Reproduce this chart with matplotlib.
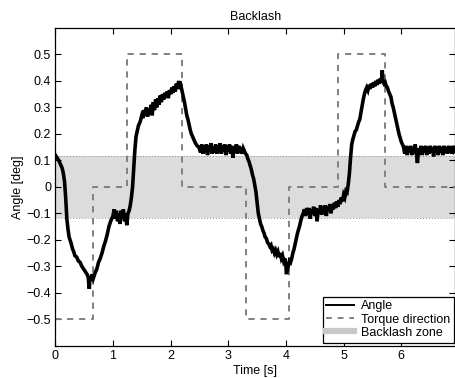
import numpy as np
import matplotlib
matplotlib.use("Agg")
import matplotlib.pyplot as plt
from matplotlib.lines import Line2D

plt.rcParams['font.family'] = ['Liberation Sans', 'DejaVu Sans']

# Measured shaft angle [deg] versus time [s]
angle_t = [
    0.00, 0.03, 0.06, 0.09, 0.12, 0.14, 0.16, 0.18, 0.20, 0.22, 0.24, 0.27, 0.30, 0.32, 0.34, 0.37,
    0.40, 0.43, 0.46, 0.49, 0.52, 0.55, 0.57, 0.59, 0.60, 0.62, 0.64, 0.66, 0.69, 0.72, 0.75, 0.78,
    0.81, 0.84, 0.87, 0.90, 0.93, 0.96, 0.98,
    1.00, 1.02, 1.04, 1.06, 1.08, 1.10, 1.12, 1.14, 1.16, 1.18, 1.20, 1.22, 1.24, 1.26, 1.28,
    1.30, 1.32, 1.34, 1.36, 1.38, 1.40, 1.42, 1.44, 1.47, 1.50,
    1.52, 1.54, 1.56, 1.58, 1.60, 1.62, 1.64, 1.66, 1.68, 1.70, 1.72, 1.74, 1.76, 1.78, 1.80, 1.82,
    1.84, 1.86, 1.88, 1.90, 1.92, 1.94, 1.96, 1.98, 2.00, 2.02, 2.04, 2.06, 2.08, 2.10, 2.12, 2.14,
    2.16, 2.18,
    2.20, 2.22, 2.24, 2.26, 2.28, 2.30, 2.32, 2.34, 2.36, 2.38, 2.40, 2.43, 2.46, 2.49,
    2.52, 2.54, 2.56, 2.58, 2.60, 2.62, 2.64, 2.66, 2.68, 2.70, 2.72, 2.74, 2.76, 2.78, 2.80, 2.82,
    2.84, 2.86, 2.88, 2.90, 2.92, 2.94, 2.96, 2.98, 3.00, 3.02, 3.04, 3.06, 3.08, 3.10, 3.12, 3.14,
    3.16, 3.18, 3.20, 3.22, 3.24, 3.26, 3.28,
    3.30, 3.32, 3.34, 3.36, 3.38, 3.40, 3.42, 3.44, 3.46, 3.48, 3.50, 3.52, 3.54, 3.56, 3.58, 3.60,
    3.62, 3.64, 3.66, 3.68, 3.70, 3.72, 3.74, 3.76, 3.78, 3.80, 3.82, 3.84, 3.86, 3.88, 3.90, 3.92,
    3.94, 3.96, 3.98, 4.00, 4.01, 4.02, 4.04, 4.06, 4.08, 4.10, 4.12, 4.14, 4.16, 4.18, 4.20, 4.22,
    4.24, 4.26, 4.28, 4.30,
    4.32, 4.34, 4.36, 4.38, 4.40, 4.42, 4.44, 4.46, 4.48, 4.50, 4.52, 4.54, 4.56, 4.58, 4.60, 4.62,
    4.64, 4.66, 4.68, 4.70, 4.72, 4.74, 4.76, 4.78, 4.80, 4.82, 4.84, 4.86, 4.88, 4.90, 4.92, 4.94,
    4.96, 4.98, 5.00, 5.02, 5.04, 5.06, 5.08, 5.10, 5.12, 5.14, 5.16, 5.18, 5.20, 5.22, 5.24, 5.26,
    5.28, 5.30, 5.32, 5.34, 5.36, 5.38, 5.40, 5.42, 5.44, 5.46, 5.48, 5.50, 5.52, 5.54, 5.56, 5.58,
    5.60, 5.62, 5.64, 5.66, 5.67, 5.68, 5.70, 5.72, 5.74, 5.76, 5.78, 5.80, 5.82, 5.84, 5.86, 5.88,
    5.90, 5.92, 5.94, 5.96, 5.98, 6.00, 6.02, 6.04,
    6.06, 6.08, 6.10, 6.12, 6.14, 6.16, 6.18, 6.20, 6.22, 6.24, 6.26, 6.28, 6.30, 6.32, 6.34, 6.36,
    6.38, 6.40, 6.42, 6.44, 6.46, 6.48, 6.50, 6.52, 6.54, 6.56, 6.58, 6.60, 6.62, 6.64, 6.66, 6.68,
    6.70, 6.72, 6.74, 6.76, 6.78, 6.80, 6.82, 6.84, 6.86, 6.88, 6.90, 6.92, 6.94,
]
angle_deg = [
    0.120, 0.110, 0.100, 0.085, 0.070, 0.050, 0.020, -0.040, -0.120, -0.160, -0.190, -0.210, -0.235, -0.245, -0.260, -0.265,
    -0.280, -0.285, -0.300, -0.310, -0.320, -0.330, -0.340, -0.385, -0.340, -0.355, -0.330, -0.345, -0.325, -0.310, -0.285, -0.270,
    -0.250, -0.225, -0.205, -0.180, -0.150, -0.130, -0.120,
    -0.110, -0.085, -0.120, -0.090, -0.130, -0.100, -0.140, -0.090, -0.120, -0.085, -0.130, -0.100, -0.145, -0.100, -0.090,
    -0.070, -0.040, 0.000, 0.070, 0.140, 0.190, 0.210, 0.230, 0.245, 0.270,
    0.260, 0.290, 0.270, 0.300, 0.265, 0.295, 0.275, 0.310, 0.270, 0.320, 0.290, 0.330, 0.300, 0.335, 0.310, 0.345,
    0.320, 0.350, 0.330, 0.355, 0.340, 0.360, 0.335, 0.365, 0.350, 0.375, 0.355, 0.380, 0.360, 0.390, 0.370, 0.400,
    0.370, 0.380,
    0.360, 0.340, 0.320, 0.295, 0.270, 0.255, 0.235, 0.215, 0.200, 0.190, 0.180, 0.165, 0.155, 0.150,
    0.130, 0.160, 0.125, 0.155, 0.130, 0.160, 0.120, 0.155, 0.135, 0.165, 0.125, 0.150, 0.130, 0.160, 0.125, 0.155,
    0.130, 0.165, 0.125, 0.155, 0.135, 0.160, 0.120, 0.150, 0.135, 0.160, 0.125, 0.155, 0.110, 0.150, 0.130, 0.160,
    0.125, 0.155, 0.130, 0.150, 0.125, 0.145, 0.135,
    0.125, 0.120, 0.105, 0.095, 0.080, 0.065, 0.045, 0.030, 0.005, -0.020, -0.060, -0.100, -0.120, -0.140, -0.150, -0.165,
    -0.175, -0.190, -0.195, -0.210, -0.215, -0.225, -0.220, -0.240, -0.235, -0.250, -0.240, -0.255, -0.245, -0.265, -0.250, -0.270,
    -0.260, -0.280, -0.270, -0.300, -0.330, -0.290, -0.300, -0.280, -0.285, -0.270, -0.250, -0.235, -0.215, -0.195, -0.175, -0.160,
    -0.145, -0.125, -0.110, -0.100,
    -0.085, -0.110, -0.080, -0.105, -0.080, -0.120, -0.085, -0.100, -0.075, -0.110, -0.080, -0.130, -0.085, -0.100, -0.070, -0.105,
    -0.080, -0.100, -0.070, -0.110, -0.075, -0.090, -0.065, -0.100, -0.070, -0.085, -0.060, -0.080, -0.055, -0.075, -0.050, -0.065,
    -0.040, -0.055, -0.030, -0.040, -0.015, -0.020, 0.010, 0.050, 0.110, 0.160, 0.180, 0.195, 0.210, 0.215, 0.230, 0.245,
    0.255, 0.280, 0.305, 0.330, 0.350, 0.365, 0.375, 0.365, 0.385, 0.370, 0.390, 0.375, 0.395, 0.380, 0.400, 0.385,
    0.405, 0.390, 0.410, 0.395, 0.440, 0.400, 0.390, 0.395, 0.380, 0.375, 0.360, 0.350, 0.340, 0.315, 0.300, 0.280,
    0.260, 0.240, 0.220, 0.200, 0.185, 0.170, 0.160, 0.150,
    0.125, 0.155, 0.120, 0.150, 0.130, 0.155, 0.120, 0.150, 0.125, 0.160, 0.130, 0.090, 0.145, 0.125, 0.155, 0.120,
    0.150, 0.130, 0.155, 0.120, 0.150, 0.125, 0.155, 0.130, 0.150, 0.115, 0.155, 0.130, 0.150, 0.120, 0.155, 0.130,
    0.150, 0.120, 0.155, 0.130, 0.150, 0.125, 0.155, 0.130, 0.150, 0.125, 0.155, 0.135, 0.140,
]

# Applied torque direction (scaled to +/-0.5), switching times [s]
torque_t = [0.00, 0.65, 1.25, 2.20, 3.30, 4.05, 4.90, 5.71, 6.94]
torque_dir = [-0.5, 0.0, 0.5, 0.0, -0.5, 0.0, 0.5, 0.0, 0.0]

# Backlash zone limits [deg]
backlash_lo = -0.117
backlash_hi = 0.117

xticks = [0, 1, 2, 3, 4, 5, 6]
yticks = [-0.5, -0.4, -0.3, -0.2, -0.1, 0, 0.1, 0.2, 0.3, 0.4, 0.5]
ytick_labels = ['\u22120.5', '\u22120.4', '\u22120.3', '\u22120.2', '\u22120.1', '0',
                '0.1', '0.2', '0.3', '0.4', '0.5']

W, H = 456, 378
fig = plt.figure(figsize=(W / 100, H / 100), dpi=100)
ax = fig.add_axes([55.3 / W, 1 - 345.7 / H, (455.5 - 55.3) / W, (345.7 - 28.0) / H])

xmax = 6.94
ax.fill_between([0, xmax], backlash_lo, backlash_hi, color='#dcdcdc', lw=0, zorder=1)
for yb in (backlash_lo, backlash_hi):
    ax.axhline(yb, color='#8c8c8c', lw=0.7, ls=(0, (1, 2)), zorder=1.5)

ax.step(torque_t, torque_dir, where='post', color='#808080', lw=1.4,
        dashes=(3.2, 3.0), zorder=2)
ax.plot(angle_t, angle_deg, color='black', lw=2.6, zorder=3, solid_joinstyle='miter')

ax.set_xlim(0, xmax)
ax.set_ylim(-0.6, 0.6)
ax.set_xticks(xticks)
ax.set_xticklabels([str(v) for v in xticks])
ax.set_yticks(yticks)
ax.set_yticklabels(ytick_labels)
ax.tick_params(direction='in', length=4, width=0.8, top=True, right=True,
               labelsize=9, pad=3, colors='black')
for s in ax.spines.values():
    s.set_linewidth(0.9)

ax.set_title('Backlash', fontsize=9, pad=6)
ax.set_xlabel('Time [s]', fontsize=9, labelpad=2)
ax.set_ylabel('Angle [deg]', fontsize=9, labelpad=2)

handles = [
    Line2D([], [], color='black', lw=1.4),
    Line2D([], [], color='#808080', lw=1.4, dashes=(3, 3)),
    Line2D([], [], color='#c8c8c8', lw=4.5),
]
leg = ax.legend(handles, ['Angle', 'Torque direction', 'Backlash zone'],
                loc='lower right', bbox_to_anchor=(0.997, 0.01), fontsize=9,
                fancybox=False, framealpha=1, edgecolor='black',
                handlelength=2.2, handletextpad=0.6, borderpad=0.3,
                labelspacing=0.1, borderaxespad=0.0)
leg.get_frame().set_linewidth(0.9)

fig.savefig('out.png', dpi=100)
